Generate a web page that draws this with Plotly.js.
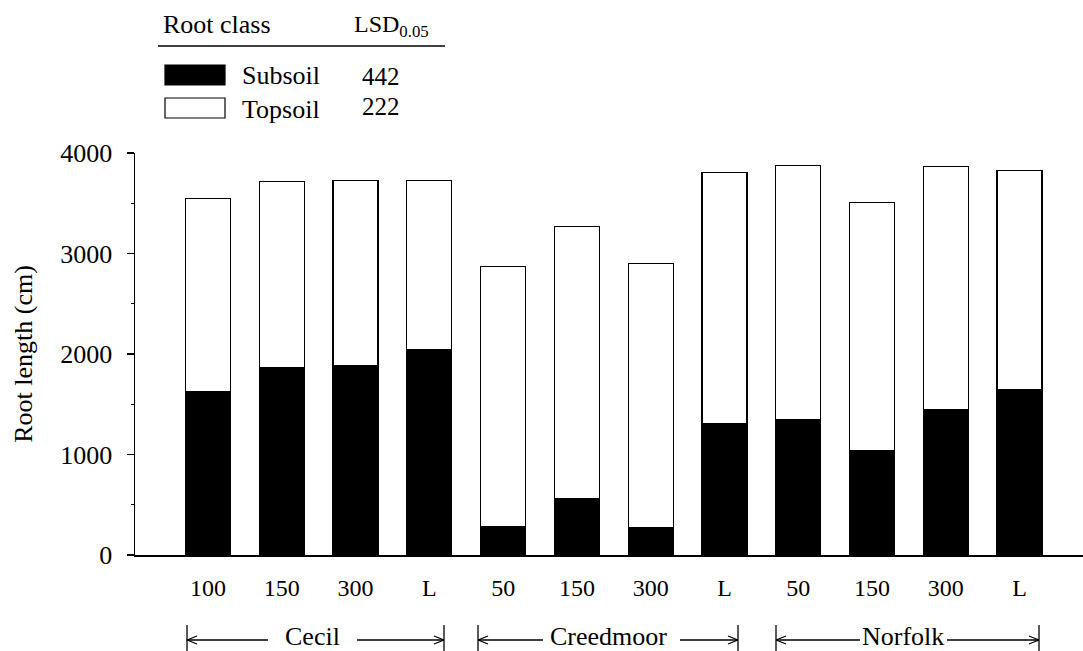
<!DOCTYPE html>
<html>
<head>
<meta charset="utf-8">
<script src="https://cdn.plot.ly/plotly-3.0.1.min.js"></script>
<style>
  html, body { margin: 0; padding: 0; background: #fff; }
  #chart { width: 1083px; height: 651px; }
</style>
</head>
<body>
<div id="chart"></div>
<script>
// Root length by soil and treatment, split into subsoil and topsoil roots
const treatments = ['100', '150', '300', 'L', '50', '150', '300', 'L', '50', '150', '300', 'L'];
const soils = ['Cecil', 'Creedmoor', 'Norfolk'];
const subsoil = [1624, 1866, 1883, 2042, 279, 558, 269, 1308, 1345, 1039, 1444, 1644];
const totals  = [3550, 3716, 3729, 3729, 2869, 3268, 2902, 3809, 3878, 3510, 3862, 3826];
const topsoil = totals.map((t, i) => t - subsoil[i]);
const lsd = { Subsoil: 442, Topsoil: 222 };

const FONT = 'Liberation Serif';
const positions = treatments.map((_, i) => i);

// plot area in pixels
const L = 135, T = 153, W = 948, H = 402;
const px = x => (x - L) / W;
const py = y => (T + H - y) / H;

const bars = [
  {
    type: 'bar', name: 'Subsoil', x: positions, y: subsoil,
    marker: { color: '#000', line: { color: '#000', width: 1.2 } },
    hoverinfo: 'y'
  },
  {
    type: 'bar', name: 'Topsoil', x: positions, y: topsoil,
    marker: { color: '#fff', line: { color: '#000', width: 1.2 } },
    hoverinfo: 'y'
  }
];

const shapes = [];
const annotations = [];
const txt = (text, x, y, xanchor, size) => annotations.push({
  text, x: px(x), y: py(y), xref: 'paper', yref: 'paper',
  xanchor: xanchor || 'center', yanchor: 'middle', showarrow: false,
  font: { family: FONT, size: size || 26, color: '#000' }
});
const line = (x0, y0, x1, y1) => shapes.push({
  type: 'line', xref: 'paper', yref: 'paper',
  x0: px(x0), y0: py(y0), x1: px(x1), y1: py(y1),
  line: { color: '#000', width: 1.3 }
});

// key with LSD column
txt('Root class', 217, 24);
txt('LSD<sub>0.05</sub>', 352, 26, 'left', 24);
line(158, 46, 445, 46);
shapes.push({ type: 'rect', xref: 'paper', yref: 'paper',
  x0: px(165), x1: px(225), y0: py(85), y1: py(65),
  fillcolor: '#000', line: { color: '#000', width: 1.2 } });
shapes.push({ type: 'rect', xref: 'paper', yref: 'paper',
  x0: px(165), x1: px(225), y0: py(118), y1: py(98),
  fillcolor: '#fff', line: { color: '#000', width: 1.2 } });
txt('Subsoil', 240, 76, 'left');
txt('Topsoil', 240, 109, 'left');
txt(String(lsd.Subsoil), 381, 77, 'center', 25);
txt(String(lsd.Topsoil), 381, 107, 'center', 25);

// soil brackets under the treatment labels
const brackets = [
  { left: 187, l2: 268, r1: 357, right: 444, cx: 312 },
  { left: 478, l2: 543, r1: 680, right: 738, cx: 608 },
  { left: 776, l2: 860, r1: 947, right: 1039, cx: 903 }
];
const by = 640;
brackets.forEach((b, i) => {
  line(b.left, 625, b.left, 660);
  line(b.right, 625, b.right, 660);
  line(b.left, by, b.l2, by);
  line(b.r1, by, b.right, by);
  line(b.left, by, b.left + 10, by - 4);
  line(b.left, by, b.left + 10, by + 4);
  line(b.right, by, b.right - 10, by - 4);
  line(b.right, by, b.right - 10, by + 4);
  txt(soils[i], b.cx, 636);
});

const layout = {
  width: 1083, height: 651,
  margin: { l: L, r: 1083 - L - W, t: T, b: 651 - T - H, pad: 0 },
  paper_bgcolor: '#fff', plot_bgcolor: '#fff',
  barmode: 'stack', bargap: 0.39,
  showlegend: false,
  font: { family: FONT, size: 24, color: '#000' },
  xaxis: {
    range: [-0.99, 11.86], tickvals: positions, ticktext: treatments,
    showgrid: false, zeroline: false, showline: true, linecolor: '#000', linewidth: 1.5,
    ticks: '', ticklabelstandoff: 11,
    tickfont: { family: FONT, size: 24, color: '#000' }
  },
  yaxis: {
    range: [0, 4000], tickvals: [0, 1000, 2000, 3000, 4000],
    showgrid: false, zeroline: false, showline: true, linecolor: '#000', linewidth: 1.5,
    ticks: 'outside', ticklen: 7, tickwidth: 1.3, tickcolor: '#000',
    ticklabelstandoff: 9,
    minor: { tickvals: [500, 1500, 2500, 3500], ticks: 'outside', ticklen: 3, tickwidth: 1.3, tickcolor: '#000' },
    tickfont: { family: FONT, size: 26, color: '#000' },
    title: { text: 'Root length (cm)', font: { family: FONT, size: 26, color: '#000' }, standoff: 20 }
  },
  shapes, annotations
};

Plotly.newPlot('chart', bars, layout, { displayModeBar: false, staticPlot: true });
</script>
</body>
</html>
